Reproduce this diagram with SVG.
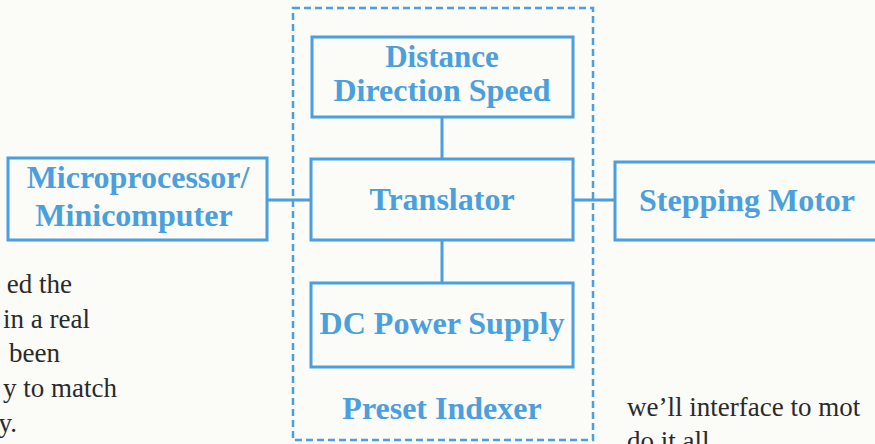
<svg xmlns="http://www.w3.org/2000/svg" width="875" height="444" viewBox="0 0 875 444">
<style>
.box{fill:none;stroke:#4a9fdc;stroke-width:3}
.dash{fill:none;stroke:#4a9fdc;stroke-width:2.5;stroke-dasharray:7 4}
.ln{stroke:#4a9fdc;stroke-width:3;fill:none}
.lbl{font-family:"Liberation Serif",serif;font-weight:bold;font-size:32px;fill:#4a9fdc;text-anchor:middle}
.sm{font-size:31px}
.body{font-family:"Liberation Serif",serif;font-size:27px;fill:#2a2a2a}
</style>
<rect width="875" height="444" fill="#fbfbf8"/>
<g id="preset-indexer">
<rect class="dash" x="293" y="8" width="300" height="432"/>
<text class="lbl" x="442" y="419">Preset Indexer</text>
</g>
<g id="connectors">
<line class="ln" x1="442" y1="117" x2="442" y2="159"/>
<line class="ln" x1="442" y1="240" x2="442" y2="283"/>
<line class="ln" x1="267" y1="200" x2="311" y2="200"/>
<line class="ln" x1="573" y1="200" x2="615" y2="200"/>
</g>
<g id="distance">
<rect class="box" x="312" y="37" width="261" height="80"/>
<text class="lbl sm" x="442" y="67">Distance</text>
<text class="lbl" x="442" y="101">Direction Speed</text>
</g>
<g id="translator">
<rect class="box" x="311" y="159" width="262" height="81"/>
<text class="lbl" x="442" y="210">Translator</text>
</g>
<g id="dc-power">
<rect class="box" x="311" y="283" width="262" height="84"/>
<text class="lbl" x="442" y="334">DC Power Supply</text>
</g>
<g id="microprocessor">
<rect class="box" x="8" y="158" width="259" height="82"/>
<text class="lbl" x="138" y="188">Microprocessor/</text>
<text class="lbl" x="134" y="226">Minicomputer</text>
</g>
<g id="stepping-motor">
<rect class="box" x="615" y="162" width="270" height="78"/>
<text class="lbl" x="747" y="211">Stepping Motor</text>
</g>
<g id="body-text">
<text class="body" x="72" y="293" text-anchor="end">ed the</text>
<text class="body" x="90" y="328" text-anchor="end">in a real</text>
<text class="body" x="60" y="362" text-anchor="end">been</text>
<text class="body" x="117" y="397" text-anchor="end">y to match</text>
<text class="body" x="17" y="432" text-anchor="end">y.</text>
<text class="body" x="627" y="416">we’ll interface to mot</text>
<text class="body" x="627" y="450">do it all.</text>
</g>
</svg>
